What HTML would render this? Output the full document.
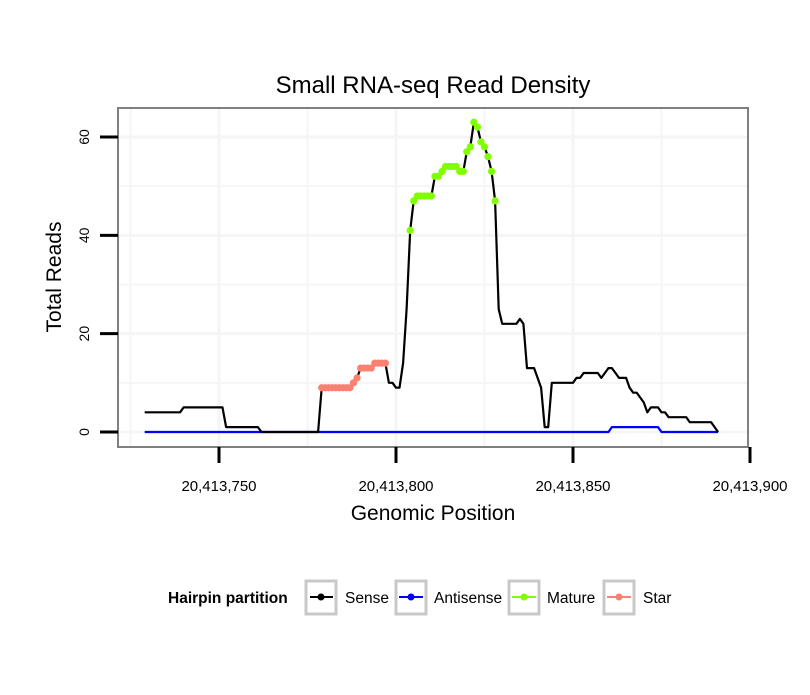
<!DOCTYPE html>
<html><head><meta charset="utf-8"><style>
body{margin:0;background:#fff;}
svg text{font-family:"Liberation Sans",sans-serif;}
</style></head><body>
<svg id="chart" width="810" height="690" xmlns="http://www.w3.org/2000/svg">
<text x="433" y="93" font-size="24" text-anchor="middle">Small RNA-seq Read Density</text>
<rect x="118" y="108" width="630" height="339" fill="#fff" stroke="#808080" stroke-width="2"/>
<g id="grid"></g>
<g id="series"></g>
<g id="axes"></g>
<text x="433" y="520" font-size="21" text-anchor="middle">Genomic Position</text>
<text transform="translate(61,277) rotate(-90)" font-size="21" text-anchor="middle">Total Reads</text>
<g>
<text x="168" y="603" font-size="15.5" font-weight="bold">Hairpin partition</text>
<g><rect x="306" y="581" width="30" height="33" fill="#fff" stroke="#c8c8c8" stroke-width="3"/><line x1="310" y1="597" x2="333" y2="597" stroke="#000" stroke-width="2"/><circle cx="321" cy="597" r="3.5" fill="#000"/><text x="345" y="603" font-size="15.5">Sense</text></g>
<g><rect x="396" y="581" width="30" height="33" fill="#fff" stroke="#c8c8c8" stroke-width="3"/><line x1="399" y1="597" x2="423" y2="597" stroke="#0000ff" stroke-width="2"/><circle cx="411" cy="597" r="3.5" fill="#0000ff"/><text x="434" y="603" font-size="15.5">Antisense</text></g>
<g><rect x="509" y="581" width="30" height="33" fill="#fff" stroke="#c8c8c8" stroke-width="3"/><line x1="512" y1="597" x2="536" y2="597" stroke="#7fff00" stroke-width="2"/><circle cx="524" cy="597" r="3.5" fill="#7fff00"/><text x="547" y="603" font-size="15.5">Mature</text></g>
<g><rect x="604" y="581" width="30" height="33" fill="#fff" stroke="#c8c8c8" stroke-width="3"/><line x1="607" y1="597" x2="631" y2="597" stroke="#fa8072" stroke-width="2"/><circle cx="619" cy="597" r="3.5" fill="#fa8072"/><text x="643" y="603" font-size="15.5">Star</text></g>
</g>
</svg>
<script>
const startPos = 20413729;
const senseValues = [4,4,4,4,4,4,4,4,4,4,4,
5,5,5,5,5,5,5,5,5,5,5,5,
1,1,1,1,1,1,1,1,1,1,
0,0,0,0,0,0,0,0,0,0,0,0,0,0,0,0,0,
9,9,9,9,9,9,9,9,9,10,11,13,13,13,13,14,14,14,14,
10,10,9,9,14,25,41,47,48,48,48,48,48,52,52,53,54,54,54,54,53,53,57,58,63,62,59,58,56,53,47,
25,22,22,22,22,22,23,22,13,13,13,11,9,1,1,
10,10,10,10,10,10,10,11,11,12,12,12,12,12,11,12,13,13,12,11,11,11,9,8,8,7,6,4,5,5,5,4,4,3,3,3,3,3,3,2,2,2,2,2,2,2,1,0];
const antisenseValues = senseValues.map((v,i)=>{const p=startPos+i; return (p>=20413861&&p<=20413874)?1:0;});
const starPositions = [20413779,20413780,20413781,20413782,20413783,20413784,20413785,20413786,20413787,20413788,20413789,20413790,20413791,20413792,20413793,20413794,20413795,20413796,20413797];
const maturePositions = [20413804,20413805,20413806,20413807,20413808,20413809,20413810,20413811,20413812,20413813,20413814,20413815,20413816,20413817,20413818,20413819,20413820,20413821,20413822,20413823,20413824,20413825,20413826,20413827,20413828];
const xTicks = [20413750,20413800,20413850,20413900];
const xTickLabels = ["20,413,750","20,413,800","20,413,850","20,413,900"];
const yTicks = [0,20,40,60];

const NS="http://www.w3.org/2000/svg";
const xs = p => 219 + (p-20413750)*3.54;
const ys = v => 432 - v*4.917;
function mk(tag, attrs, parent){const e=document.createElementNS(NS,tag);for(const k in attrs)e.setAttribute(k,attrs[k]);parent.appendChild(e);return e;}
const grid=document.getElementById('grid'), series=document.getElementById('series'), axes=document.getElementById('axes');
for(let v=0; v<=60; v+=10){ if(ys(v)<109) continue;
  const g=mk('line',{x1:119,x2:747,y1:ys(v),y2:ys(v),stroke:'#f5f5f5','stroke-width':v%20===0?3:2},grid);
  
  }
for(let p=20413725; p<=20413900; p+=25){ const x=xs(p); if(x<119||x>747) continue;
  const g=mk('line',{x1:x,x2:x,y1:109,y2:446,stroke:'#f5f5f5','stroke-width':p%50===0?3:2},grid);
  
  }
yTicks.forEach(v=>{
  const t=mk('line',{x1:100,x2:118,y1:ys(v),y2:ys(v),stroke:'#000','stroke-width':3},axes);
  
  
  const l=mk('text',{transform:`translate(89,${ys(v)}) rotate(-90)`,'font-size':14,'text-anchor':'middle'},axes);
  l.textContent=v;
  
  
});
xTicks.forEach((p,i)=>{
  const t=mk('line',{x1:xs(p),x2:xs(p),y1:447,y2:463,stroke:'#000','stroke-width':3},axes);
  
  
  const l=mk('text',{x:xs(p),y:491,'font-size':15,'text-anchor':'middle'},axes);
  l.textContent=xTickLabels[i];
  
  
});
function linePath(vals){return vals.map((v,i)=>(i?'L':'M')+xs(startPos+i).toFixed(1)+','+ys(v).toFixed(1)).join('');}
const anti=mk('path',{d:linePath(antisenseValues),fill:'none',stroke:'#0000ff','stroke-width':2.2},series);


const sense=mk('path',{d:linePath(senseValues),fill:'none',stroke:'#000','stroke-width':2.2,'stroke-linejoin':'round'},series);


function dots(positions,color,name){positions.forEach(p=>{const v=senseValues[p-startPos];
  const c=mk('circle',{cx:xs(p),cy:ys(v),r:3.6,fill:color},series);
  
  });}
dots(starPositions,'#fa8072','star-point');
dots(maturePositions,'#7fff00','mature-point');
</script>
</body></html>
